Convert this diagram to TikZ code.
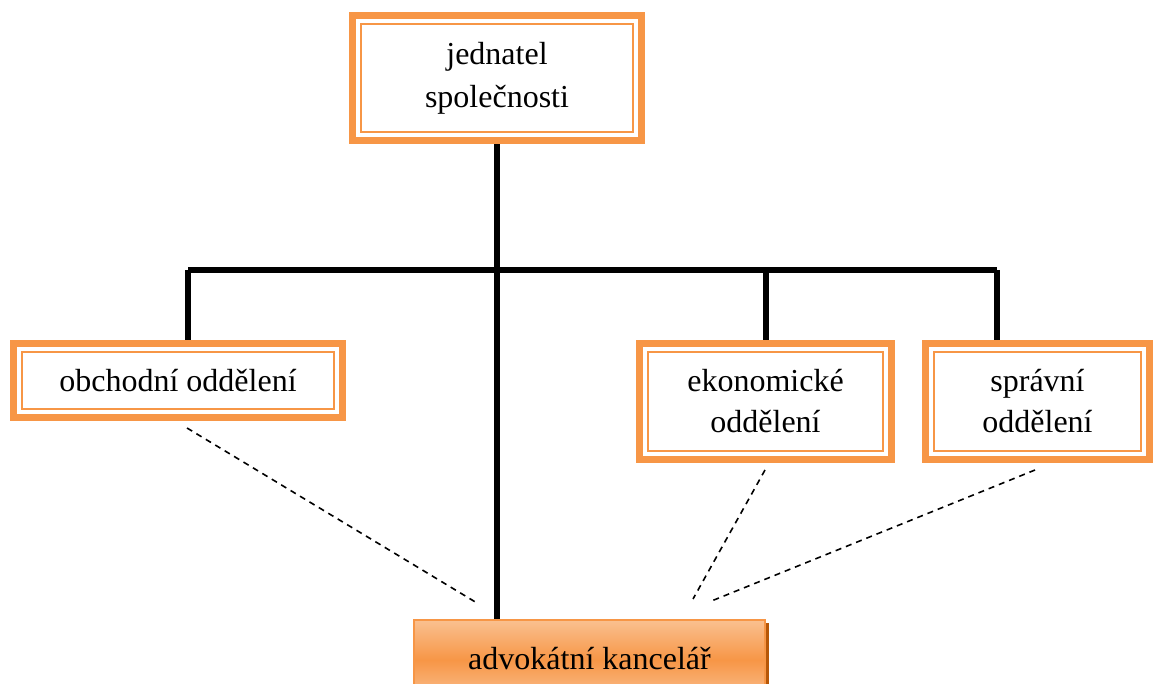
\documentclass[tikz,border=0pt]{standalone}
\usepackage{fontspec}
\setmainfont{Liberation Serif}
\usetikzlibrary{backgrounds}
\definecolor{accent}{HTML}{F79646}
\definecolor{accentlight}{HTML}{FAC090}
\definecolor{accentdark}{HTML}{B65708}
\tikzset{
  unitbox/.style={rectangle, draw=accent, line width=7pt, fill=white,
    inner sep=0pt, align=center, font=\fontsize{32}{41}\selectfont,
    path picture={\draw[accent, line width=2pt]
      ([shift={(8.5pt,-8.5pt)}]path picture bounding box.north west) rectangle
      ([shift={(-8.5pt,8.5pt)}]path picture bounding box.south east);}},
  firmbox/.style={rectangle, draw=accent, line width=1.5pt, inner sep=0pt,
    top color=accentlight, bottom color=accentlight, middle color=accent,
    font=\fontsize{32}{41}\selectfont},
  solidlink/.style={line width=6pt, black},
  dashlink/.style={line width=1.6pt, black, dash pattern=on 6pt off 5pt}
}
\begin{document}
\begin{tikzpicture}[x=1pt,y=-1pt]
\useasboundingbox (0,0) rectangle (1154,684);
% shadow of the law office box
\fill[accentdark] (418,623) rectangle (769,700);
\node[firmbox, minimum width=351pt, minimum height=80pt] (adv) at (589.5,660) {\raisebox{3pt}{advokátní kancelář}};
\node[unitbox, minimum width=289pt, minimum height=125pt] (ceo) at (497,78) {jednatel\\[2pt]společnosti};
\node[unitbox, minimum width=329pt, minimum height=74pt] (obch) at (178,380.5) {obchodní oddělení};
\node[unitbox, minimum width=252pt, minimum height=116pt] (ekon) at (765.5,401.5) {ekonomické\\oddělení};
\node[unitbox, minimum width=224pt, minimum height=116pt] (sprav) at (1037.5,401.5) {správní\\oddělení};
\coordinate (busL) at (188,270);
\coordinate (busR) at (997,270);
\coordinate (d1s) at (187,428);
\coordinate (d1e) at (477,603);
\coordinate (d2s) at (765,470);
\coordinate (d2e) at (693,599);
\coordinate (d3s) at (1035,470);
\coordinate (d3e) at (709,602);
\begin{scope}[on background layer]
\draw[solidlink] (ceo.south) -- (ceo.south |- adv.north);
\draw[solidlink] (busL) -- (busR);
\draw[solidlink] (busL) -- (busL |- obch.north);
\draw[solidlink] (ekon.north |- busL) -- (ekon.north);
\draw[solidlink] (busR) -- (busR |- sprav.north);
\end{scope}
\draw[dashlink] (d1s) -- (d1e);
\draw[dashlink] (d2s) -- (d2e);
\draw[dashlink] (d3s) -- (d3e);
\end{tikzpicture}
\end{document}
